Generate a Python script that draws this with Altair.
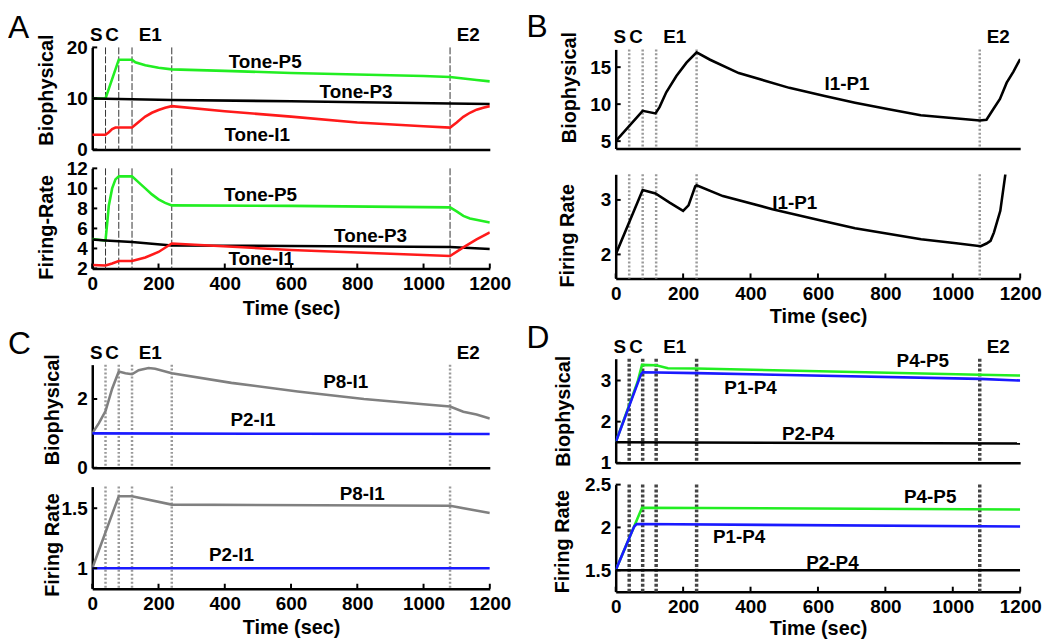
import altair as alt
import pandas as pd

FONT = "Liberation Sans"
GREEN = "#22ee22"
RED = "#ff1a1a"
BLUE = "#1a1aff"
GRAY = "#808080"
BLACK = "#000000"

EVENT_T = [40, 80, 120, 240, 1080]
EVENT_NAMES = ["S", "C", "E1", "E2"]
EVENT_NAME_T = [12, 60, 175, 1135]
X_TICKS = [0, 200, 400, 600, 800, 1000, 1200]

# ---------------- Panel A (biophysical) ----------------
A_bio_P5_t = [0, 40, 80, 120, 130, 160, 200, 240, 400, 600, 800, 1000, 1080, 1120, 1160, 1200]
A_bio_P5_v = [10, 10, 17.6, 17.6, 17.1, 16.5, 16.0, 15.7, 15.4, 15.0, 14.7, 14.4, 14.2, 13.9, 13.6, 13.35]
A_bio_P3_t = [0, 40, 240, 600, 1080, 1200]
A_bio_P3_v = [10, 9.95, 9.7, 9.45, 9.0, 8.9]
A_bio_I1_t = [0, 40, 50, 60, 70, 120, 140, 160, 180, 200, 220, 240, 400, 600, 800, 1000, 1080, 1100, 1120, 1140, 1160, 1180, 1200]
A_bio_I1_v = [2.9, 2.9, 3.4, 4.0, 4.3, 4.3, 5.4, 6.45, 7.2, 7.75, 8.2, 8.5, 7.5, 6.45, 5.3, 4.55, 4.3, 5.3, 6.4, 7.2, 7.8, 8.2, 8.5]

# ---------------- Panel A (firing rate) ----------------
A_fr_P5_t = [0, 40, 45, 50, 60, 70, 80, 120, 140, 160, 180, 200, 220, 240, 600, 1080, 1100, 1120, 1140, 1170, 1200]
A_fr_P5_v = [4.95, 4.8, 6.5, 8.3, 10.0, 10.9, 11.2, 11.2, 10.6, 10.0, 9.4, 8.9, 8.55, 8.3, 8.25, 8.1, 7.7, 7.25, 7.0, 6.8, 6.6]
A_fr_P3_t = [0, 40, 120, 240, 600, 1080, 1200]
A_fr_P3_v = [4.9, 4.8, 4.65, 4.3, 4.25, 4.15, 3.95]
A_fr_I1_t = [0, 40, 60, 80, 120, 160, 200, 240, 600, 1080, 1120, 1160, 1200]
A_fr_I1_v = [2.35, 2.3, 2.5, 2.75, 2.75, 3.1, 3.65, 4.5, 3.85, 3.25, 4.1, 4.9, 5.6]

# ---------------- Panel B ----------------
B_bio_t = [0, 80, 118, 130, 150, 180, 210, 240, 280, 365, 515, 620, 710, 810, 905, 1005, 1080, 1100, 1120, 1140, 1160, 1180, 1200]
B_bio_v = [5.0, 9.1, 8.75, 9.6, 11.6, 13.8, 15.6, 17.0, 16.0, 14.2, 12.2, 11.1, 10.2, 9.3, 8.5, 8.1, 7.8, 7.9, 9.3, 10.7, 12.9, 14.4, 16.1]
B_fr_t = [0, 80, 118, 160, 200, 216, 236, 240, 318, 465, 612, 710, 808, 906, 1004, 1083, 1100, 1112, 1122, 1141, 1156]
B_fr_v = [2.0, 3.18, 3.12, 2.95, 2.8, 2.9, 3.25, 3.27, 3.07, 2.83, 2.62, 2.48, 2.38, 2.28, 2.21, 2.15, 2.2, 2.25, 2.4, 2.8, 3.47]

# ---------------- Panel C ----------------
C_bio_P8_t = [0, 20, 40, 60, 80, 100, 120, 140, 170, 190, 240, 420, 620, 820, 1000, 1080, 1120, 1160, 1200]
C_bio_P8_v = [1.0, 1.3, 1.65, 2.3, 2.8, 2.75, 2.72, 2.84, 2.9, 2.88, 2.75, 2.47, 2.22, 2.0, 1.85, 1.78, 1.63, 1.55, 1.43]
C_bio_P2_t = [0, 600, 1200]
C_bio_P2_v = [1.0, 0.99, 0.98]
C_fr_P8_t = [0, 80, 120, 240, 1080, 1200]
C_fr_P8_v = [1.0, 1.6, 1.6, 1.53, 1.52, 1.46]
C_fr_P2_t = [0, 1200]
C_fr_P2_v = [1.0, 1.0]

# ---------------- Panel D ----------------
D_bio_P45_t = [0, 65, 78, 120, 155, 240, 1080, 1200]
D_bio_P45_v = [1.5, 2.97, 3.38, 3.37, 3.3, 3.29, 3.14, 3.12]
D_bio_P14_t = [0, 75, 80, 240, 1080, 1200]
D_bio_P14_v = [1.5, 3.15, 3.2, 3.18, 3.04, 3.0]
D_bio_P24_t = [0, 1200]
D_bio_P24_v = [1.5, 1.47]
D_fr_P45_t = [0, 48, 78, 1200]
D_fr_P45_v = [1.5, 1.95, 2.23, 2.21]
D_fr_P14_t = [0, 48, 55, 62, 1200]
D_fr_P14_v = [1.5, 1.95, 2.01, 2.04, 2.01]
D_fr_P24_t = [0, 1200]
D_fr_P24_v = [1.5, 1.5]

VSTYLE = {
    "A": dict(color="#333333", strokeWidth=1, strokeDash=[7, 2]),
    "B": dict(color="#9a9a9a", strokeWidth=2.5, strokeDash=[2, 2]),
    "C": dict(color="#9a9a9a", strokeWidth=2.5, strokeDash=[2, 2]),
    "D": dict(color="#444444", strokeWidth=3.5, strokeDash=[3, 2]),
}


def df(t, v):
    return pd.DataFrame({"t": t, "v": v})


def panel(key, series, labels, ydom, yticks, ytitle, w, h, bottom,
          title_x, title_dy, letter=None, letter_dx=-85, letter_dy=17, xtitle_y=40):
    xscale = alt.Scale(domain=[0, 1200], nice=False, zero=False)
    yscale = alt.Scale(domain=ydom, nice=False, zero=False)
    if bottom:
        xaxis = alt.Axis(values=X_TICKS, format="d", title="Time (sec)", labelFont=FONT,
                         labelFontSize=19, labelFontWeight="bold", labelColor=BLACK,
                         labelPadding=6, ticks=False, domainColor=BLACK, domainWidth=2.5,
                         grid=False, titleFont=FONT, titleFontSize=20, titleFontWeight="bold",
                         titleColor=BLACK, titleY=xtitle_y, titleBaseline="middle",
                         labelFlush=False)
    else:
        xaxis = alt.Axis(labels=False, ticks=False, title="", domainColor=BLACK,
                         domainWidth=2.5, grid=False)
    yaxis = alt.Axis(values=yticks, format="~g", title=ytitle, labelFont=FONT,
                     labelFontSize=19, labelFontWeight="bold", labelColor=BLACK,
                     labelPadding=5, ticks=False, domainColor=BLACK, domainWidth=2.5,
                     grid=False, titleFont=FONT, titleFontSize=20, titleFontWeight="bold",
                     titleColor=BLACK, titleX=title_x, titleY=h / 2 + title_dy,
                     titleBaseline="middle", titleAlign="center", titleAngle=270,
                     labelFlush=False)
    X = alt.X("t:Q", scale=xscale, axis=xaxis)
    Y = alt.Y("v:Q", scale=yscale, axis=yaxis)

    layers = []
    vs = VSTYLE[key]
    layers.append(
        alt.Chart(pd.DataFrame({"t": EVENT_T})).mark_rule(**vs).encode(
            x=X, y=alt.value(0), y2=alt.value(h))
    )
    for (t, v, col) in series:
        layers.append(
            alt.Chart(df(t, v)).mark_line(color=col, strokeWidth=2.6, clip=True).encode(x=X, y=Y)
        )
    layers.append(
        alt.Chart(pd.DataFrame({"v": yticks})).mark_rule(color=BLACK, strokeWidth=2).encode(
            y=Y, x=alt.value(0), x2=alt.value(5))
    )
    if bottom:
        layers.append(
            alt.Chart(pd.DataFrame({"t": X_TICKS})).mark_rule(color=BLACK, strokeWidth=2).encode(
                x=X, y=alt.value(h), y2=alt.value(h - 5))
        )
    if labels:
        lt, lv, ls = zip(*labels)
        layers.append(
            alt.Chart(pd.DataFrame({"t": lt, "v": lv, "s": ls})).mark_text(
                font=FONT, fontSize=19, fontWeight="bold", color=BLACK).encode(
                x=X, y=Y, text="s:N")
        )
    if letter is not None:
        layers.append(
            alt.Chart(pd.DataFrame({"t": EVENT_NAME_T, "s": EVENT_NAMES})).mark_text(
                font=FONT, fontSize=19, fontWeight="bold", color=BLACK, baseline="middle").encode(
                x=X, y=alt.value(-12), text="s:N")
        )
    ch = alt.layer(*layers).properties(width=w, height=h)
    if letter is not None:
        ch = ch.properties(title=alt.TitleParams(
            text=letter, anchor="start", frame="group", dx=letter_dx, font=FONT,
            fontSize=32, fontWeight="normal", color=BLACK, offset=0, dy=letter_dy))
    return ch


def spacer(w, h):
    return alt.Chart(pd.DataFrame({"t": [0]})).mark_point(opacity=0).encode(
        x=alt.value(0), y=alt.value(0)).properties(width=w, height=h)


WL, WR = 401, 408

A_top = panel("A", [(A_bio_P5_t, A_bio_P5_v, GREEN), (A_bio_P3_t, A_bio_P3_v, BLACK),
                    (A_bio_I1_t, A_bio_I1_v, RED)],
              [(522, 17.1, "Tone-P5"), (796, 11.3, "Tone-P3"), (498, 2.9, "Tone-I1")],
              [0, 20], [0, 10, 20], "Biophysical", WL, 103, False, -46, -9,
              letter="A", letter_dy=18.5)
A_bot = panel("A", [(A_fr_P5_t, A_fr_P5_v, GREEN), (A_fr_P3_t, A_fr_P3_v, BLACK),
                    (A_fr_I1_t, A_fr_I1_v, RED)],
              [(508, 9.3, "Tone-P5"), (840, 5.2, "Tone-P3"), (510, 2.9, "Tone-I1")],
              [2, 12], [2, 4, 6, 8, 10, 12], "Firing-Rate", WL, 101, True, -46, 8.5)
B_top = panel("B", [(B_bio_t, B_bio_v, BLACK)], [(686, 12.7, "I1-P1")],
              [4, 17.4], [5, 10, 15], "Biophysical", WR, 100, False, -47, -12,
              letter="B", letter_dx=-90, letter_dy=15)
B_bot = panel("B", [(B_fr_t, B_fr_v, BLACK)], [(531, 2.95, "I1-P1")],
              [1.56, 3.47], [2, 3], "Firing Rate", WR, 105, True, -49, 9, xtitle_y=38)
C_top = panel("C", [(C_bio_P8_t, C_bio_P8_v, GRAY), (C_bio_P2_t, C_bio_P2_v, BLUE)],
              [(765, 2.5, "P8-I1"), (485, 1.39, "P2-I1")],
              [0, 3], [0, 2], "Biophysical", WL, 104, False, -40, -7, letter="C")
C_bot = panel("C", [(C_fr_P8_t, C_fr_P8_v, GRAY), (C_fr_P2_t, C_fr_P2_v, BLUE)],
              [(815, 1.62, "P8-I1"), (420, 1.11, "P2-I1")],
              [0.83, 1.68], [1, 1.5], "Firing Rate", WL, 103, True, -40, 7, xtitle_y=39)
D_top = panel("D", [(D_bio_P45_t, D_bio_P45_v, GREEN), (D_bio_P14_t, D_bio_P14_v, BLUE),
                    (D_bio_P24_t, D_bio_P24_v, BLACK)],
              [(911, 3.48, "P4-P5"), (400, 2.82, "P1-P4"), (571, 1.7, "P2-P4")],
              [1, 3.53], [1, 2, 3], "Biophysical", WR, 105, False, -53, 0,
              letter="D", letter_dx=-90)
D_bot = panel("D", [(D_fr_P45_t, D_fr_P45_v, GREEN), (D_fr_P14_t, D_fr_P14_v, BLUE),
                    (D_fr_P24_t, D_fr_P24_v, BLACK)],
              [(933, 2.36, "P4-P5"), (366, 1.89, "P1-P4"), (643, 1.58, "P2-P4")],
              [1.25, 2.5], [1.5, 2, 2.5], "Firing Rate", WR, 108, True, -54, 3, xtitle_y=37)

left_col = alt.vconcat(
    A_top, spacer(WL, 19), A_bot, spacer(WL, 97), C_top, spacer(WL, 19), C_bot,
    spacing=0, bounds="flush",
)
right_col = alt.vconcat(
    spacer(WR, 2), B_top, spacer(WR, 26), B_bot, spacer(WR, 81), D_top, spacer(WR, 22), D_bot,
    spacing=0, bounds="flush",
)

chart = alt.hconcat(left_col, right_col, spacing=15).properties(
    padding=0).configure_view(strokeWidth=0)

chart.save("out.html", embed_options={"renderer": "svg", "actions": False})
